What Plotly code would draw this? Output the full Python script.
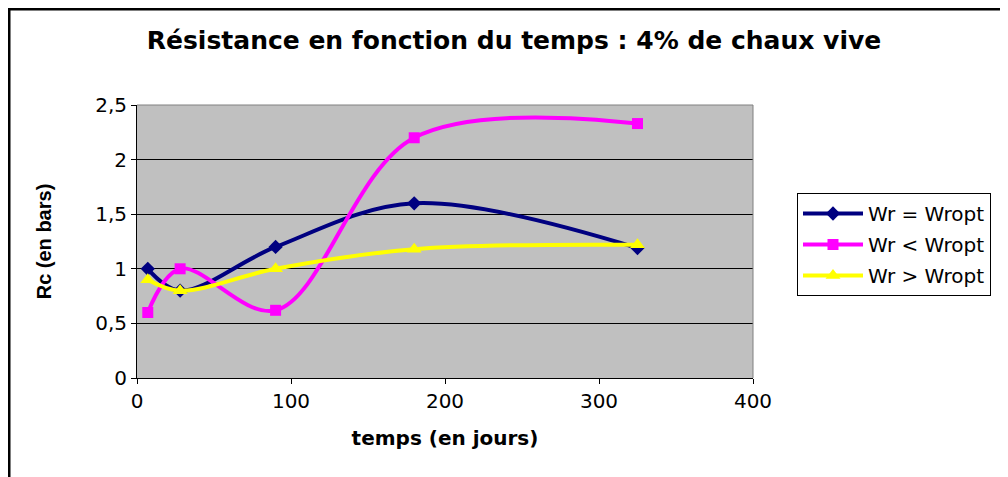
import plotly.graph_objects as go

# durée (jours) et résistance Rc (bars)
jours = [7, 28, 90, 180, 325]
rc_egal = [1.0, 0.8, 1.2, 1.6, 1.19]
rc_inf = [0.6, 1.0, 0.62, 2.2, 2.33]
rc_sup = [0.9, 0.8, 1.0, 1.18, 1.22]

noms = ["Wr = Wropt", "Wr < Wropt", "Wr > Wropt"]
couleurs = ["#000080", "#FF00FF", "#FFFF00"]
symboles = ["diamond", "square", "triangle-up"]

# la page a une marge de 8px : la figure commence à (8, 8)
W, H = 1000, 469
L, R, T, B = 129, 255, 97, 99
pw, ph = W - L - R, H - T - B

fig = go.Figure()
for nom, y, c, s in zip(noms, [rc_egal, rc_inf, rc_sup], couleurs, symboles):
    fig.add_trace(go.Scatter(
        x=jours, y=y, name=nom, mode='lines+markers', legendgroup=nom,
        line=dict(color=c, width=4, shape='spline', smoothing=1),
        marker=dict(symbol=s, size=11 if s != 'triangle-up' else 13, color=c),
    ))

# cadre du graphique
px = lambda p: (p - L) / pw
py = lambda p: (H - B - p) / ph
fig.add_shape(type='path', xref='paper', yref='paper',
              path=f"M {px(1)} {py(480)} L {px(1)} {py(1)} L {px(1010)} {py(1)}",
              line=dict(color='black', width=3))

fig.update_layout(
    width=W, height=H,
    margin=dict(l=L, r=R, t=T, b=B),
    paper_bgcolor='white', plot_bgcolor='#C0C0C0',
    separators=', ',
    font=dict(family='DejaVu Sans', color='black', size=20),
    title=dict(text='<b>Résistance en fonction du temps : 4% de chaux vive</b>',
               x=506 / W, xref='container', xanchor='center', y=1 - 32 / H, yanchor='middle',
               font=dict(size=25)),
    legend=dict(x=px(789), y=py(185), xanchor='left', yanchor='top',
                bordercolor='black', borderwidth=1, bgcolor='white',
                font=dict(size=20), tracegroupgap=2, itemwidth=60),
    xaxis=dict(range=[0, 400], dtick=100, showgrid=False, zeroline=False,
               showline=True, linecolor='black', linewidth=1, mirror=False,
               ticks='outside', ticklen=5, tickcolor='black',
               title=dict(text='<b>temps (en jours)</b>', font=dict(size=20), standoff=18)),
    yaxis=dict(range=[0, 2.5], dtick=0.5, showgrid=True, gridcolor='black', gridwidth=1,
               zeroline=False, showline=True, linecolor='black', linewidth=1,
               ticks='outside', ticklen=5, tickcolor='black',
               title=dict(text='<b>Rc (en bars)</b>', standoff=38,
                          font=dict(family='Liberation Sans', size=20))),
)
# bord gris haut/droite de la zone de tracé
fig.add_shape(type='path', xref='paper', yref='paper',
              path="M 0 1 L 1 1 L 1 0", line=dict(color='#808080', width=1))

fig.write_html("out.html")
